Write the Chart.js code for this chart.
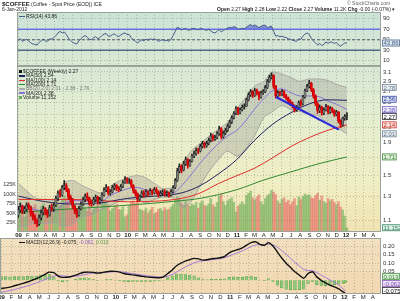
<!DOCTYPE html>
<html>
<head>
<meta charset="utf-8">
<script src="https://cdn.jsdelivr.net/npm/chart.js@4.4.0/dist/chart.umd.min.js"></script>
<style>
  body { margin:0; background:#fff; width:400px; height:301px; overflow:hidden; position:relative;
         font-family:"Liberation Sans", Arial, sans-serif; }
  canvas { position:absolute; left:0; }
  .t { position:absolute; white-space:nowrap; line-height:1; color:#222; font-size:5px; z-index:5; }
  .t b { font-weight:bold; }
  .mk { display:inline-block; width:6px; height:1.5px; vertical-align:middle; margin-right:1px; }
  .sq { display:inline-block; width:3px; height:3px; vertical-align:middle; margin-right:1px; }
</style>
</head>
<body>
<canvas id="cRsi" width="400" height="67" style="top:0"></canvas>
<canvas id="cPrice" width="400" height="172" style="top:66px"></canvas>
<canvas id="cMacd" width="400" height="63" style="top:238px"></canvas>

<div class="t" style="left:2px;top:1px;"><b style="font-size:6px">$COFFEE</b> (Coffee - Spot Price (EOD)) ICE</div>
<div class="t" style="left:2px;top:7px;">6-Jan-2012</div>
<div class="t" style="left:347px;top:1px;color:#666;">&copy; StockCharts.com</div>
<div class="t" style="left:217px;top:7px;"><b>Open</b> 2.27 <b>High</b> 2.28 <b>Low</b> 2.22 <b>Close</b> 2.27 <b>Volume</b> 11.2K <b>Chg</b> -0.00 (-0.07%) &#9662;</div>
<div class="t" style="left:19px;top:14px;"><span class="mk" style="background:#445c88"></span>RSI(14) 43.86</div>

<div class="t" style="left:19px;top:69px;"><span class="sq" style="background:#111"></span>$COFFEE (Weekly) 2.27</div>
<div class="t" style="left:19px;top:73.3px;"><span class="mk" style="background:#202060"></span>MA(50) 2.54</div>
<div class="t" style="left:19px;top:77.6px;"><span class="mk" style="background:#e0302a"></span>MA(100) 2.14</div>
<div class="t" style="left:19px;top:81.9px;"><span class="mk" style="background:#2f8a2f"></span>MA(200) 1.71</div>
<div class="t" style="left:19px;top:86.2px;color:#777"><span class="mk" style="background:#aaa"></span>BB(20,2.0) 2.01 - 2.38 - 2.76</div>
<div class="t" style="left:19px;top:90.5px;"><span class="mk" style="background:#8a74d8"></span>MA(20) 2.38</div>
<div class="t" style="left:19px;top:94.8px;"><span class="sq" style="background:#6aa85a"></span>Volume 11,152</div>

<div class="t" style="left:19px;top:240px;"><span class="mk" style="background:#111"></span>MACD(12,26,9) -0.075, <span style="color:#9060c0">-0.062</span>, <span style="color:#5a9a4a">0.013</span></div>

<script>
// ===== Data (weekly, first week = 2 Jan 2009) =====
const opens = [
  1.14,1.18,1.21,1.17,1.19,1.22,1.20,1.15,1.12,1.09, 1.07,1.12,1.16,1.19,1.16,1.14,1.20,1.19,1.22,1.28,
  1.33,1.31,1.38,1.40,1.36,1.29,1.26,1.21,1.17,1.14, 1.19,1.23,1.27,1.30,1.28,1.24,1.23,1.27,1.29,1.25,
  1.27,1.31,1.36,1.38,1.33,1.34,1.38,1.40,1.37,1.36, 1.39,1.43,
  1.46,1.44,1.45,1.40,1.35,1.32,1.27,1.30, 1.33,1.31,1.34,1.32,1.35,1.33,1.36,1.34,1.31,1.33,
  1.34,1.32,1.33,1.31,1.34,1.38,1.45,1.55,1.60,1.56, 1.63,1.68,1.61,1.66,1.72,1.75,1.79,1.78,1.84,1.88,
  1.85,1.88,1.92,1.98,1.94,1.96,2.01,2.08,1.97,2.02, 2.06,2.12,2.18,2.25,2.32,
  2.40,2.33,2.38,2.42,2.44, 2.55,2.64,2.70,2.63,2.72,2.68,2.60,2.68,2.70,2.78,
  2.90,2.98,3.02,2.80,2.62,2.68,2.66,2.70,2.62,2.58, 2.52,2.48,2.44,2.38,2.42,2.50,2.48,2.60,2.72,2.80,
  2.86,2.74,2.62,2.48,2.36,2.42,2.32,2.38,2.43,2.34, 2.40,2.36,2.30,2.34,2.20,2.14,2.24,
  2.27
];
const highs = [
  1.21,1.24,1.22,1.21,1.24,1.24,1.21,1.17,1.14,1.11, 1.14,1.18,1.21,1.20,1.18,1.22,1.23,1.24,1.30,1.35,
  1.36,1.40,1.45,1.42,1.37,1.31,1.28,1.22,1.19,1.21, 1.25,1.29,1.32,1.33,1.29,1.26,1.29,1.31,1.30,1.29,
  1.33,1.38,1.41,1.39,1.36,1.40,1.42,1.41,1.39,1.41, 1.45,1.49,
  1.48,1.47,1.46,1.41,1.36,1.33,1.31,1.35, 1.35,1.36,1.35,1.37,1.36,1.38,1.38,1.35,1.35,1.36,
  1.36,1.35,1.34,1.36,1.40,1.47,1.58,1.63,1.62,1.66, 1.71,1.69,1.68,1.74,1.78,1.82,1.82,1.87,1.91,1.90,
  1.91,1.95,2.02,2.00,1.99,2.04,2.12,2.10,2.05,2.09, 2.15,2.21,2.28,2.35,2.43,
  2.42,2.41,2.46,2.48,2.58, 2.68,2.74,2.72,2.76,2.75,2.70,2.71,2.74,2.82,2.94,
  3.03,3.08,3.04,2.82,2.72,2.71,2.74,2.72,2.65,2.60, 2.55,2.51,2.46,2.45,2.53,2.55,2.63,2.75,2.84,2.92,
  2.88,2.76,2.64,2.50,2.46,2.44,2.41,2.47,2.45,2.43, 2.42,2.38,2.37,2.35,2.22,2.26,2.30,
  2.33
];
const lows = [
  1.12,1.16,1.15,1.15,1.17,1.18,1.13,1.10,1.07,1.05, 1.06,1.10,1.14,1.14,1.12,1.13,1.17,1.17,1.21,1.26,
  1.29,1.30,1.36,1.34,1.27,1.24,1.19,1.15,1.12,1.13, 1.18,1.22,1.25,1.26,1.22,1.21,1.22,1.25,1.23,1.23,
  1.26,1.30,1.34,1.31,1.31,1.33,1.36,1.35,1.34,1.35, 1.38,1.42,
  1.42,1.42,1.38,1.33,1.30,1.25,1.26,1.29, 1.29,1.30,1.30,1.31,1.31,1.32,1.32,1.29,1.30,1.31,
  1.30,1.30,1.29,1.30,1.33,1.37,1.44,1.53,1.53,1.55, 1.61,1.58,1.60,1.65,1.70,1.73,1.75,1.77,1.82,1.82,
  1.83,1.86,1.90,1.91,1.92,1.94,1.99,1.94,1.95,2.00, 2.04,2.10,2.16,2.23,2.30,
  2.30,2.31,2.36,2.39,2.43, 2.53,2.61,2.59,2.61,2.64,2.55,2.58,2.65,2.68,2.76,
  2.88,2.95,2.76,2.58,2.60,2.62,2.63,2.59,2.55,2.49, 2.45,2.41,2.34,2.35,2.40,2.44,2.46,2.58,2.70,2.77,
  2.70,2.58,2.45,2.32,2.33,2.29,2.30,2.36,2.31,2.32, 2.33,2.27,2.28,2.17,2.10,2.12,2.21,
  2.22
];
const closes = [
  1.18,1.21,1.17,1.19,1.22,1.20,1.15,1.12,1.09,1.07, 1.12,1.16,1.19,1.16,1.14,1.20,1.19,1.22,1.28,1.33,
  1.31,1.38,1.40,1.36,1.29,1.26,1.21,1.17,1.14,1.19, 1.23,1.27,1.30,1.28,1.24,1.23,1.27,1.29,1.25,1.27,
  1.31,1.36,1.38,1.33,1.34,1.38,1.40,1.37,1.36,1.39, 1.43,1.46,
  1.44,1.45,1.40,1.35,1.32,1.27,1.30,1.33, 1.31,1.34,1.32,1.35,1.33,1.36,1.34,1.31,1.33,1.34,
  1.32,1.33,1.31,1.34,1.38,1.45,1.55,1.60,1.56,1.63, 1.68,1.61,1.66,1.72,1.75,1.79,1.78,1.84,1.88,1.85,
  1.88,1.92,1.98,1.94,1.96,2.01,2.08,1.97,2.02,2.06, 2.12,2.18,2.25,2.32,2.40,
  2.33,2.38,2.42,2.44,2.55, 2.64,2.70,2.63,2.72,2.68,2.60,2.68,2.70,2.78,2.90,
  2.98,3.02,2.80,2.62,2.68,2.66,2.70,2.62,2.58,2.52, 2.48,2.44,2.38,2.42,2.50,2.48,2.60,2.72,2.80,2.86,
  2.74,2.62,2.48,2.36,2.42,2.32,2.38,2.43,2.34,2.40, 2.36,2.30,2.34,2.20,2.14,2.24,2.27,
  2.27
];
// weekly volume, thousands of contracts
const volumesK = [
  48,62,55,40,58,52,70,65,72,60, 55,68,74,50,45,62,58,66,80,76, 70,85,95,88,82,60,72,66,58,64,
  70,75,62,55,68,52,60,66,72,58, 75,82,78,70,55,62,68,72,60,58, 66,40,
  45,70,78,82,75,90,60,58,55,62, 50,58,65,48,52,60,62,55,64,58, 60,66,72,85,92,88,75,70,80,72,
  68,74,70,78,62,76,82,70,68,74, 88,72,66,78,95,100,80,70,82,86, 90,78,52,
  68,74,80,72,96,102,108,90,85,92, 98,80,72,88,96,100,110,105,98,82, 75,86,90,78,84,72,80,88,70,92,
  85,94,100,96,98,90,88,96,102,84, 95,80,76,88,82,86,78,72,80,66, 58,42,
  11.152
];
const rsiValues = [
  49,52,47,49,51,48,44,42,41,40, 45,48,51,48,47,52,51,54,58,63, 66,63,65,60,53,49,45,43,42,48,
  52,56,58,55,51,50,54,56,52,54, 58,61,62,57,57,60,61,58,56,59, 62,63,60,60,54,50,47,44,47,50,
  48,51,49,52,50,52,50,47,49,50, 48,49,47,51,58,66,74,72,69,71, 72,68,69,71,72,70,69,72,71,69,
  68,70,67,64,63,66,70,65,68,70, 72,74,73,75,74,70,71,72,71,74, 77,79,76,78,76,73,76,77,78,73,
  75,76,66,57,58,56,57,55,54,52, 51,49,48,47,52,51,57,61,63,60, 53,48,44,40,43,39,41,46,43,46,
  45,43,45,40,38,41,44,43.86
];
// MACD panel, one value every 2 weeks (last one = final week)
const macdValues = [
  -0.048,-0.044,-0.040,-0.032,-0.025,-0.018,-0.010,0.000,0.010,0.022,
  0.035,0.048,0.045,0.025,0.017,0.018,0.022,0.030,0.040,0.047,
  0.048,0.046,0.042,0.045,0.050,0.053,0.052,0.048,0.040,0.035,
  0.032,0.028,0.024,0.020,0.018,0.016,0.015,0.020,0.040,0.060,
  0.085,0.100,0.112,0.120,0.128,0.125,0.118,0.120,0.126,0.128,
  0.132,0.140,0.160,0.172,0.180,0.190,0.205,0.220,0.225,0.210,
  0.205,0.220,0.200,0.165,0.130,0.100,0.075,0.050,0.030,0.012,
  0.040,0.050,0.020,0.000,-0.015,-0.028,-0.038,-0.050,-0.068,-0.075
];
const signalValues = [
  -0.070,-0.065,-0.060,-0.054,-0.047,-0.040,-0.033,-0.024,-0.015,-0.005,
  0.005,0.015,0.025,0.028,0.026,0.023,0.022,0.024,0.028,0.033,
  0.038,0.042,0.043,0.044,0.046,0.049,0.050,0.050,0.047,0.043,
  0.039,0.035,0.031,0.027,0.024,0.021,0.019,0.019,0.024,0.034,
  0.048,0.063,0.078,0.090,0.102,0.110,0.114,0.117,0.120,0.123,
  0.127,0.132,0.142,0.152,0.162,0.172,0.184,0.196,0.206,0.208,
  0.207,0.211,0.207,0.193,0.174,0.152,0.129,0.105,0.084,0.064,
  0.058,0.056,0.045,0.030,0.016,0.002,-0.012,-0.027,-0.050,-0.062
];
const histValues = [
  0.022,0.021,0.020,0.022,0.022,0.022,0.023,0.024,0.025,0.027,
  0.030,0.033,0.020,-0.003,-0.009,-0.005,0.000,0.006,0.012,0.014,
  0.010,0.004,-0.001,0.001,0.004,0.004,0.002,-0.002,-0.007,-0.008,
  -0.007,-0.007,-0.007,-0.007,-0.006,-0.005,-0.004,0.001,0.016,0.026,
  0.037,0.037,0.034,0.030,0.026,0.015,0.004,0.003,0.006,0.005,
  0.005,0.008,0.018,0.020,0.018,0.018,0.021,0.024,0.019,0.002,
  -0.002,0.009,-0.007,-0.028,-0.044,-0.052,-0.054,-0.055,-0.054,-0.052,
  -0.018,-0.006,-0.025,-0.030,-0.031,-0.030,-0.026,-0.023,-0.018,-0.013
];
// overlays, by month index (0 = Jan 2009)
const bbMonths = [0,1,2,3,4,5,6,7,8,9,10,11,12,13,14,15,16,17,18,19,20,21,22,23,24,25,26,27,28,29,30,31,32,33,34,35,36.1];
const bbUpper = [1.42,1.34,1.28,1.27,1.26,1.42,1.45,1.40,1.36,1.33,1.39,1.44,1.48,1.50,1.48,1.42,1.37,1.38,1.60,1.78,1.88,1.98,2.08,2.18,2.40,2.60,2.80,2.90,3.10,3.05,2.98,2.90,2.95,2.95,2.92,2.84,2.78];
const ma20Values = [1.23,1.20,1.18,1.17,1.17,1.23,1.26,1.26,1.25,1.25,1.30,1.34,1.37,1.38,1.36,1.34,1.33,1.33,1.40,1.51,1.64,1.76,1.88,1.98,2.06,2.21,2.39,2.57,2.72,2.75,2.68,2.62,2.62,2.61,2.53,2.47,2.38];
const bbLower = [1.04,1.06,1.08,1.07,1.08,1.05,1.07,1.12,1.14,1.18,1.21,1.25,1.27,1.27,1.24,1.27,1.29,1.29,1.20,1.25,1.40,1.55,1.68,1.78,1.72,1.82,1.98,2.25,2.35,2.45,2.38,2.35,2.30,2.28,2.15,2.10,2.01];
const ma50Months = [0,3,6,9,12,15,18,20,22,24,26,28,30,32,34,36.1];
const ma50Values = [1.30,1.25,1.23,1.24,1.28,1.30,1.33,1.40,1.52,1.68,1.92,2.15,2.33,2.48,2.55,2.54];
const ma100Months = [0,6,12,18,20,22,24,26,28,30,32,34,36.1];
const ma100Values = [1.27,1.27,1.25,1.28,1.33,1.42,1.50,1.58,1.70,1.84,1.96,2.06,2.14];
const ma200Months = [0,6,12,18,20,24,27,30,33,36.1];
const ma200Values = [1.16,1.19,1.22,1.26,1.28,1.36,1.455,1.54,1.63,1.71];
const trendDates = [[2011,4,12],[2011,11,8]];
const trendValues = [2.60, 2.07];

// axes
const monthLetters = ['J','F','M','A','M','J','J','A','S','O','N','D'];
const yearLabels = ['09','10','11','12'];
const priceTicks = [1.1,1.2,1.3,1.4,1.5,1.6,1.7,1.8,1.9,2.0,2.1,2.2,2.3,2.4,2.5,2.6,2.7,2.8,2.9,3.0,3.1];
const volTicks = [25,50,75,100,125];
const rsiTicks = [10,30,50,70,90];
const rsiLevels = [70,50,30];
const macdTicks = [0.05,0.10,0.15,0.20];

// ===== Helpers =====
const FONT = '"Liberation Sans", Arial, sans-serif';
const GRID = 'rgba(95,110,90,0.35)';
const DAY0 = Date.UTC(2009,0,1);
const dayOf = (y,m,d) => (Date.UTC(y,m,d) - DAY0) / 864e5;
const monthDay = m => dayOf(2009, Math.floor(m), 1) + (m % 1) * 30;
const weekDay = w => 7*w - 1;
const X_MIN = -5, X_MAX = 1212;

const monthDays = [], monthLabels = [];
for (let m = 0; m < 40; m++) {
  monthDays.push(dayOf(2009, m, 1));
  monthLabels.push(m % 12 === 0 ? yearLabels[m/12] : monthLetters[m % 12]);
}

// no automatic label margins: panels must sit on exact pixels
function noPad(s) { s.paddingTop = 0; s.paddingBottom = 0; s.paddingLeft = 0; s.paddingRight = 0; }

function xAxis(showLabels, h) {
  return {
    type:'linear', min:X_MIN, max:X_MAX, offset:false,
    afterBuildTicks: s => { s.ticks = monthDays.map(v => ({value:v})); },
    afterFit: s => { s.height = h; noPad(s); },
    ticks: { display:showLabels, autoSkip:false, maxRotation:0, padding:0, color:'#222',
      font: c => ({ family:FONT, size:6, weight: (monthLabels[c.index]||'').length === 2 ? 'bold' : 'normal' }),
      callback: (v,i) => monthLabels[i] },
    grid: { color:GRID, drawTicks:false, offset:false },
    border: { display:false, dash:[1,2] }
  };
}
function rightAxis(extra) {
  return Object.assign({
    position:'right',
    afterFit: s => { s.width = 19; noPad(s); },
    ticks: { padding:2, color:'#333', font:{family:FONT, size:6} },
    grid: { color:GRID, drawTicks:false },
    border: { display:false, dash:[1,2] }
  }, extra);
}

// panel background + frame
const panelPlugin = {
  id:'panel',
  beforeDraw(chart, args, opts) {
    const {ctx, chartArea:a} = chart;
    const g = ctx.createLinearGradient(0, a.top, 0, a.bottom);
    opts.stops.forEach(([p,c]) => g.addColorStop(p,c));
    ctx.save(); ctx.fillStyle = g; ctx.fillRect(a.left, a.top, a.width, a.height); ctx.restore();
  },
  afterDraw(chart) {
    const {ctx, chartArea:a} = chart;
    ctx.save(); ctx.strokeStyle = '#9aa39a'; ctx.lineWidth = 1;
    ctx.strokeRect(a.left+0.5, a.top+0.5, a.width-1, a.height-1); ctx.restore();
  }
};
// last-value tags on the right edge
const tagPlugin = {
  id:'tags',
  afterDraw(chart, args, opts) {
    if (!opts.items) return;
    const {ctx, chartArea:a} = chart;
    const items = opts.items.map(t => ({...t, y: chart.scales[t.axis].getPixelForValue(t.value)}));
    items.sort((p,q) => q.y - p.y);
    let limit = a.bottom - 3.5;
    items.forEach(t => { t.y = Math.min(t.y, limit); limit = t.y - 7; });
    ctx.save();
    ctx.font = '6px ' + FONT; ctx.textBaseline = 'middle';
    items.forEach(t => {
      const w = ctx.measureText(t.text).width + 3, x = a.right + 1;
      ctx.fillStyle = t.bg; ctx.fillRect(x, t.y-3.5, w, 7);
      ctx.strokeStyle = t.color; ctx.lineWidth = 0.7; ctx.strokeRect(x+0.5, t.y-3, w-1, 6);
      ctx.fillStyle = t.color; ctx.fillText(t.text, x+1.5, t.y+0.5);
    });
    ctx.restore();
  }
};
Chart.register(panelPlugin, tagPlugin);

const base = { responsive:false, animation:false, devicePixelRatio:1, events:[] };
const lineDs = (data, color, width, extra) => Object.assign({
  type:'line', data, borderColor:color, borderWidth:width, pointRadius:0, fill:false,
  cubicInterpolationMode:'monotone'
}, extra);

// ===== RSI =====
const weeks = closes.map((c,i) => i);
new Chart(document.getElementById('cRsi'), {
  type:'line',
  data: { datasets: [
    lineDs(rsiValues.map((v,i) => ({x:weekDay(i), y:v})), '#445c88', 1,
      { fill:{ target:{value:70}, above:'rgba(70,80,210,0.55)', below:'rgba(0,0,0,0)' }, cubicInterpolationMode:'default', order:1 }),
    ...rsiLevels.map(l => lineDs([{x:X_MIN,y:l},{x:X_MAX,y:l}],
      l === 70 ? '#6c74ea' : l === 30 ? '#4d6a8a' : '#556', l === 50 ? 1 : 1.6,
      { borderDash: l === 50 ? [3,2] : [], order:2 }))
  ]},
  options: Object.assign({}, base, {
    layout: { padding:{ left:17, top:12, right:0, bottom:0 } },
    plugins: { legend:{display:false}, tooltip:{enabled:false},
      panel:{ stops:[[0,'#cde3d8'],[1,'#dbe9d3']] },
      tags:{ items:[{axis:'y', value:43.86, text:'43.86', color:'#445c88', bg:'#dce8ee'}] } },
    scales: {
      x: xAxis(false, 1),
      y: rightAxis({ min:0, max:103,
        afterBuildTicks: s => { s.ticks = rsiTicks.map(v => ({value:v})); } })
    }
  })
});

// ===== Price + volume =====
const isUp = weeks.map(i => closes[i] >= opens[i]);
const volUp = weeks.map(i => i === 0 ? closes[0] >= opens[0] : closes[i] >= closes[i-1]);
new Chart(document.getElementById('cPrice'), {
  type:'bar',
  data: { datasets: [
    { type:'bar', yAxisID:'vol', grouped:false, barThickness:2, order:20,
      data: volumesK.map((v,i) => ({x:weekDay(i), y:v})),
      backgroundColor: volUp.map(u => u ? 'rgba(96,168,78,0.55)' : 'rgba(228,86,86,0.5)') },
    lineDs(bbMonths.map((m,i) => ({x:monthDay(m), y:bbUpper[i]})), '#a9a9a2', 1,
      { yAxisID:'price', fill:'+1', backgroundColor:'rgba(150,150,142,0.33)', order:15 }),
    lineDs(bbMonths.map((m,i) => ({x:monthDay(m), y:bbLower[i]})), '#a9a9a2', 1,
      { yAxisID:'price', order:16 }),
    lineDs(ma200Months.map((m,i) => ({x:monthDay(m), y:ma200Values[i]})), '#2f8a2f', 1, { yAxisID:'price', order:8 }),
    lineDs(ma100Months.map((m,i) => ({x:monthDay(m), y:ma100Values[i]})), '#e0302a', 1, { yAxisID:'price', order:8 }),
    lineDs(ma50Months.map((m,i) => ({x:monthDay(m), y:ma50Values[i]})), '#202060', 1, { yAxisID:'price', order:8 }),
    lineDs(bbMonths.map((m,i) => ({x:monthDay(m), y:ma20Values[i]})), '#8a74d8', 1, { yAxisID:'price', order:8 }),
    { type:'bar', yAxisID:'price', grouped:false, barThickness:1, order:4,
      data: weeks.map(i => ({x:weekDay(i), y:[lows[i], highs[i]]})),
      backgroundColor: isUp.map(u => u ? '#222' : '#d40000') },
    { type:'bar', yAxisID:'price', grouped:false, barThickness:2.2, minBarLength:1, order:3,
      data: weeks.map(i => ({x:weekDay(i), y:[opens[i], closes[i]]})),
      backgroundColor: isUp.map(u => u ? 'rgba(240,240,230,0.45)' : '#e8000c'),
      borderColor: isUp.map(u => u ? '#222' : '#c00000'), borderWidth:0.6 },
    lineDs(trendDates.map((d,i) => ({x:dayOf(d[0],d[1],d[2]), y:trendValues[i]})), '#2a2ad8', 2.2,
      { yAxisID:'price', order:1 })
  ]},
  options: Object.assign({}, base, {
    layout: { padding:0 },
    plugins: { legend:{display:false}, tooltip:{enabled:false},
      panel:{ stops:[[0,'#d8e8d6'],[0.35,'#e6eecf'],[0.7,'#f0eec4'],[1,'#f2e3b2']] },
      tags:{ items:[
        {axis:'price', value:2.78, text:'2.78', color:'#6a7a8a', bg:'#e4ecef'},
        {axis:'price', value:2.56, text:'2.56', color:'#2a3a9a', bg:'#dde3f4'},
        {axis:'price', value:2.38, text:'2.38', color:'#7060c0', bg:'#ebe6f6'},
        {axis:'price', value:2.27, text:'2.27', color:'#111', bg:'#ffffff'},
        {axis:'price', value:2.14, text:'2.14', color:'#c8281e', bg:'#f8e0dc'},
        {axis:'price', value:2.01, text:'2.01', color:'#6a7a8a', bg:'#e4ecef'},
        {axis:'price', value:1.71, text:'1.71', color:'#2f7f2f', bg:'#e0f0da'},
        {axis:'vol', value:volumesK[volumesK.length-1], text:'11,152', color:'#2f7f5f', bg:'#dcefe6'}
      ] } },
    scales: {
      x: xAxis(true, 6),
      price: rightAxis({ type:'logarithmic', min:1.0115, max:3.23,
        afterBuildTicks: s => { s.ticks = priceTicks.map(v => ({value:v})); },
        ticks:{ padding:2, color:'#333', font:{family:FONT, size:6}, callback: v => Number(v).toFixed(1) } }),
      vol: { type:'linear', position:'left', min:0, max:437,
        afterBuildTicks: s => { s.ticks = volTicks.map(v => ({value:v})); },
        afterFit: s => { s.width = 17; noPad(s); },
        ticks:{ padding:1, color:'#333', font:{family:FONT, size:5.5}, callback: v => v + 'K' },
        grid:{ drawOnChartArea:false, drawTicks:false }, border:{display:false} }
    }
  })
});

// ===== MACD =====
const macdWeek = i => Math.min(2*i, closes.length-1);
new Chart(document.getElementById('cMacd'), {
  type:'bar',
  data: { datasets: [
    { type:'bar', grouped:false, barThickness:2.6, order:5,
      data: histValues.map((v,i) => ({x:weekDay(macdWeek(i)), y:v})),
      backgroundColor:'#8fca7c', borderColor:'#4f9a3f', borderWidth:0.5 },
    lineDs(signalValues.map((v,i) => ({x:weekDay(macdWeek(i)), y:v})), '#a67ad6', 1, { order:2 }),
    lineDs(macdValues.map((v,i) => ({x:weekDay(macdWeek(i)), y:v})), '#111', 1.4, { order:1 })
  ]},
  options: Object.assign({}, base, {
    layout: { padding:0 },
    plugins: { legend:{display:false}, tooltip:{enabled:false},
      panel:{ stops:[[0,'#f3e0c0'],[1,'#f2d8b2']] },
      tags:{ items:[
        {axis:'y', value:0.013, text:'0.013', color:'#3f8a3f', bg:'#dcefd6'},
        {axis:'y', value:-0.062, text:'-0.062', color:'#8050b8', bg:'#ece2f6'},
        {axis:'y', value:-0.075, text:'-0.075', color:'#111', bg:'#ffffff'}
      ] } },
    scales: {
      x: xAxis(true, 7),
      y: rightAxis({ min:-0.08, max:0.247,
        afterBuildTicks: s => { s.ticks = macdTicks.map(v => ({value:v})); },
        ticks:{ padding:2, color:'#333', font:{family:FONT, size:6}, callback: v => Number(v).toFixed(2) } })
    }
  })
});
</script>
</body>
</html>
